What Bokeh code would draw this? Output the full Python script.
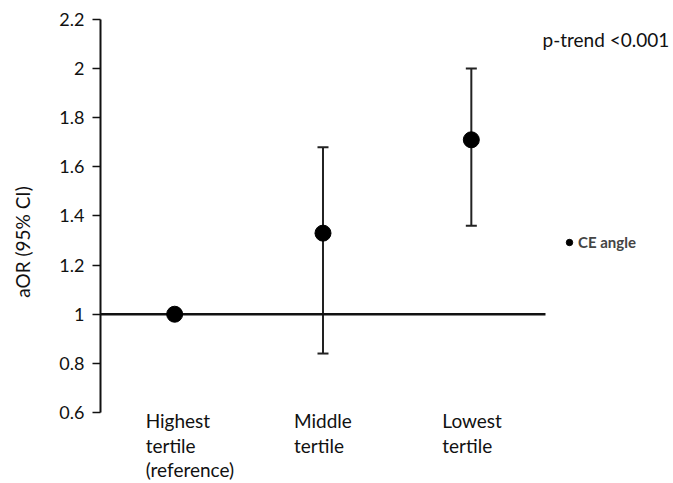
from bokeh.plotting import figure
from bokeh.models import (ColumnDataSource, Range1d, Whisker, TeeHead, Label,
                          Legend, LegendItem, FixedTicker)
from bokeh.embed import file_html
from bokeh.resources import INLINE

categories = ["Highest\ntertile\n(reference)", "Middle\ntertile", "Lowest\ntertile"]
positions = [0.5, 1.5, 2.5]
aor = [1.0, 1.33, 1.71]
ci_lower = [1.0, 0.84, 1.36]
ci_upper = [1.0, 1.68, 2.0]
y_ticks = [0.6, 0.8, 1.0, 1.2, 1.4, 1.6, 1.8, 2.0, 2.2]
y_tick_labels = ["0.6", "0.8", "1", "1.2", "1.4", "1.6", "1.8", "2", "2.2"]
reference_value = 1.0
x_span = [0, 3]
series_name = "CE angle"
annotation = "p-trend <0.001"

FONT = "Lato"
INK = "#111111"
src = ColumnDataSource(dict(x=positions, y=aor))
err_src = ColumnDataSource(dict(x=positions[1:], lo=ci_lower[1:], hi=ci_upper[1:]))

# frame fills the canvas right of the y axis so texts beside the plot are not clipped
p = figure(width=673, height=483, output_backend="svg", toolbar_location=None,
           x_range=Range1d(0, 3.863), y_range=Range1d(0.311, 2.277),
           min_border_left=100, min_border_right=0, min_border_top=0, min_border_bottom=0)
p.outline_line_color = None
p.grid.visible = False
p.xaxis.visible = False

ya = p.yaxis[0]
ya.bounds = (y_ticks[0], y_ticks[-1])
ya.ticker = FixedTicker(ticks=y_ticks)
ya.major_label_overrides = {t: l for t, l in zip(y_ticks, y_tick_labels)}
ya.minor_tick_line_color = None
ya.major_tick_out = 8
ya.major_tick_in = 0
ya.axis_line_width = 2
ya.major_tick_line_width = 1.5
ya.axis_line_color = INK
ya.major_tick_line_color = INK
ya.major_label_text_font = FONT
ya.major_label_text_font_size = "18px"
ya.major_label_text_color = INK
ya.major_label_standoff = 8
ya.axis_label = "aOR (95% CI)"
ya.axis_label_text_font = FONT
ya.axis_label_text_font_style = "normal"
ya.axis_label_text_font_size = "19px"
ya.axis_label_text_color = INK
ya.axis_label_standoff = 22

p.line(x=x_span, y=[reference_value, reference_value], line_color=INK, line_width=2.5)

wh = Whisker(source=err_src, base="x", upper="hi", lower="lo", dimension="height",
             line_color="#222222", line_width=2,
             upper_head=TeeHead(size=11, line_color="#222222", line_width=2),
             lower_head=TeeHead(size=11, line_color="#222222", line_width=2))
p.add_layout(wh)

r = p.scatter("x", "y", source=src, size=16, color="#000000")

for x, lab in zip(positions, categories):
    p.add_layout(Label(x=x, y=y_ticks[0], x_offset=-29, y_offset=3, text=lab,
                       text_align="left", text_baseline="top",
                       text_font=FONT, text_font_size="19px", text_color=INK,
                       text_line_height=1.05))

p.add_layout(Label(x=x_span[1], y=y_ticks[-1], x_offset=-3, y_offset=-9, text=annotation,
                   text_align="left", text_baseline="top",
                   text_font=FONT, text_font_size="19px", text_color=INK))

legend = Legend(items=[LegendItem(label=series_name, renderers=[r])],
                location=(461, 232), border_line_color=None, background_fill_alpha=0,
                glyph_width=16, glyph_height=16, label_text_font=FONT,
                label_text_font_size="15px", label_text_font_style="bold",
                label_standoff=1, padding=2, margin=0)
p.add_layout(legend)

open("out.html", "w").write(file_html(p, INLINE))
